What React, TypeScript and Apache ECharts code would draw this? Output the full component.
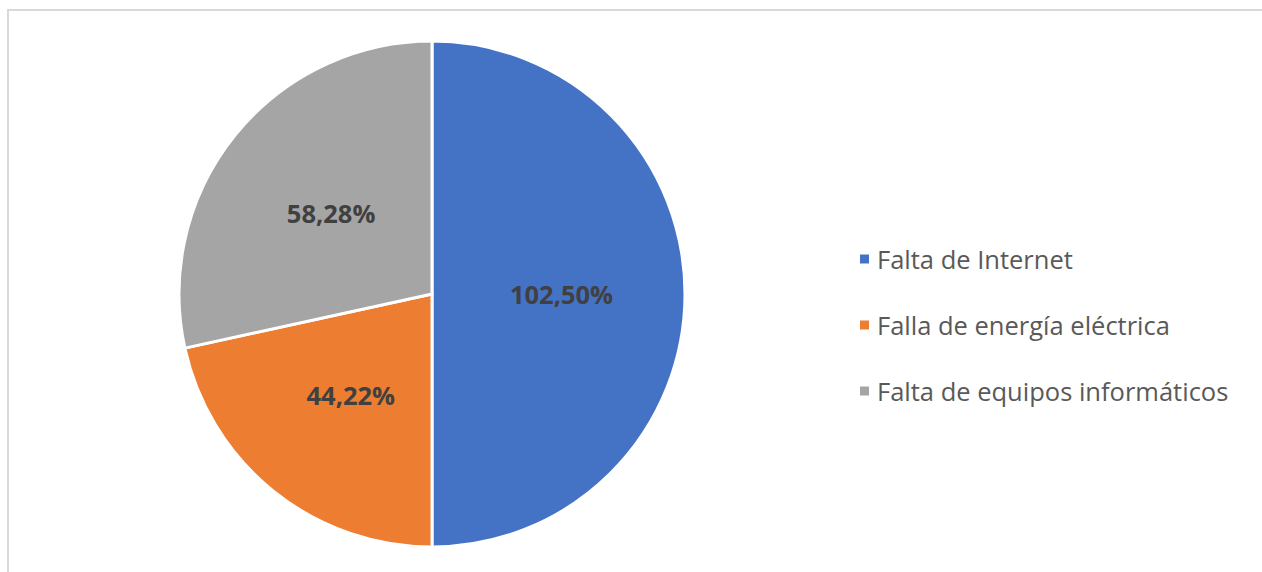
import React, { useEffect, useRef } from "react";
import * as echarts from "echarts";

const categories = ["Falta de Internet", "Falla de energía eléctrica", "Falta de equipos informáticos"];
const values = [102.5, 44.22, 58.28];
const colors = ["#4472C4", "#ED7D31", "#A5A5A5"];

export default function App() {
  const ref = useRef<HTMLDivElement>(null);
  useEffect(() => {
    if (!ref.current) return;
    const chart = echarts.init(ref.current, null, { renderer: "svg" });
    chart.setOption({
      animation: false,
      backgroundColor: "#ffffff",
      graphic: [
        {
          type: "rect",
          shape: { x: 8, y: 10, width: 1300, height: 600 },
          style: { fill: "none", stroke: "#D9D9D9", lineWidth: 2 },
          silent: true,
        },
      ],
      legend: {
        orient: "vertical",
        left: 853,
        top: 241,
        itemWidth: 11,
        itemHeight: 11,
        itemGap: 40,
        icon: "rect",
        data: categories,
        textStyle: {
          fontFamily: "Open Sans",
          fontSize: 25.5,
          lineHeight: 26,
          color: "#595959",
          padding: [0, 0, 0, 2],
        },
      },
      series: [
        {
          type: "pie",
          center: [432, 294],
          radius: [0, 253],
          startAngle: 90,
          clockwise: true,
          data: categories.map((c, i) => ({ name: c, value: values[i], itemStyle: { color: colors[i] } })),
          itemStyle: { borderColor: "#ffffff", borderWidth: 3 },
          label: {
            show: true,
            position: "inside",
            formatter: (p: any) => p.value.toFixed(2).replace(".", ",") + "%",
            fontFamily: "Open Sans",
            fontWeight: "bold",
            fontSize: 25.5,
            color: "#404040",
          },
          labelLine: { show: false },
          emphasis: { disabled: true },
        },
      ],
    });
    return () => chart.dispose();
  }, []);
  return (
    <div
      ref={ref}
      style={{ position: "fixed", left: 0, top: 0, width: 1262, height: 572 }}
    />
  );
}
